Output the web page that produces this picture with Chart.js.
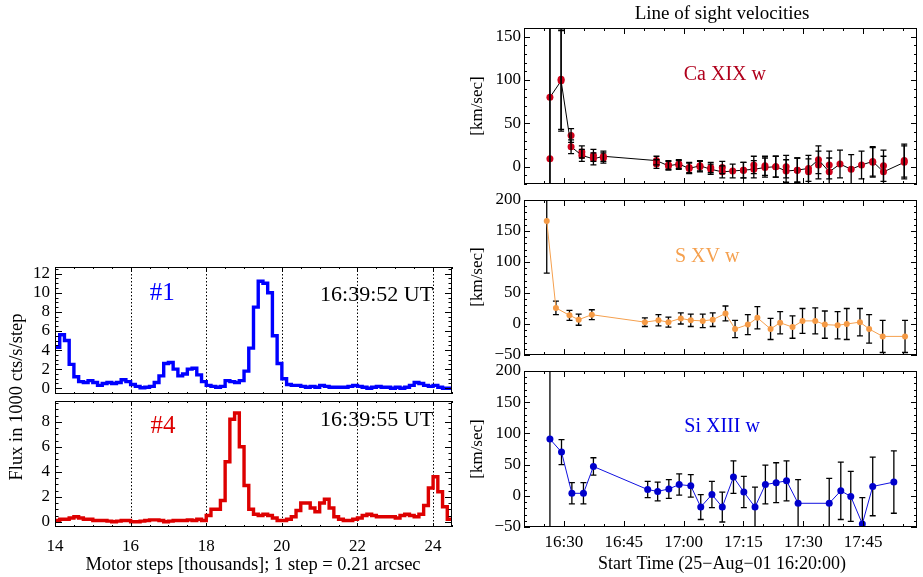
<!DOCTYPE html>
<html>
<head>
<meta charset="utf-8">
<title>Line of sight velocities</title>
<script src="https://cdn.jsdelivr.net/npm/chart.js@4.4.0/dist/chart.umd.min.js"></script>
<style>
  html, body { margin: 0; padding: 0; background: #fff; }
  #wrap { position: relative; width: 923px; height: 577px; overflow: hidden; }
  #wrap canvas { position: absolute; left: 0; top: 0; }
</style>
</head>
<body>
<div id="wrap">
  <canvas id="flux1" width="923" height="577"></canvas>
  <canvas id="flux4" width="923" height="577"></canvas>
  <canvas id="velCa" width="923" height="577"></canvas>
  <canvas id="velS" width="923" height="577"></canvas>
  <canvas id="velSi" width="923" height="577"></canvas>
</div>
<script>
// ---- data ----
// flux histograms, bins of 0.125 thousand motor steps starting at 14.0
var stepStart = 14.0;
var stepWidth = 0.125;
var flux1 = [4.3, 5.6, 5.0, 2.5, 1.2, 0.7, 0.6, 0.8, 0.6, 0.3,
             0.5, 0.6, 0.5, 0.6, 0.9, 0.7, 0.4, 0.2, 0.05, 0.1,
             0.2, 0.6, 1.3, 2.6, 2.7, 2.0, 1.3, 1.5, 2.0, 2.1,
             1.4, 0.7, 0.3, 0.2, 0.1, 0.2, 0.8, 0.7, 0.6, 0.8,
             1.8, 4.2, 8.5, 11.2, 11.0, 10.0, 5.5, 2.6, 1.0, 0.4,
             0.3, 0.3, 0.2, 0.1, 0.2, 0.1, 0.3, 0.2, 0.1, 0.1,
             0.1, 0.1, 0.2, 0.3, 0.2, 0.1, 0.0, 0.1, 0.2, 0.1,
             0.1, 0.0, 0.1, 0.0, 0.1, 0.3, 0.6, 0.5, 0.3, 0.2,
             0.3, 0.1, 0.0, 0.0];
var flux4 = [0.1, 0.2, 0.2, 0.3, 0.4, 0.3, 0.2, 0.2, 0.1, 0.1,
             0.1, 0.05, 0.0, 0.05, 0.1, 0.1, 0.0, 0.0, 0.05, 0.1,
             0.15, 0.15, 0.1, 0.0, 0.05, 0.1, 0.1, 0.1, 0.15, 0.1,
             0.2, 0.1, 0.5, 1.0, 1.0, 1.7, 4.8, 8.2, 8.7, 6.0,
             2.9, 1.0, 0.6, 0.5, 0.6, 0.5, 0.3, 0.1, 0.1, 0.2,
             0.4, 0.9, 1.5, 1.5, 1.1, 0.8, 1.5, 1.8, 1.1, 0.4,
             0.2, 0.1, 0.1, 0.2, 0.3, 0.5, 0.6, 0.5, 0.4, 0.4,
             0.4, 0.4, 0.3, 0.5, 0.6, 0.5, 0.4, 0.6, 1.3, 2.7,
             3.6, 2.4, 1.2, 0.2];

// velocities, time in minutes after 16:20:00
var caTime = [6.5, 9.3, 11.8, 14.5, 17.4, 19.9, 33.2, 36.2, 38.8, 41.4,
              44.1, 46.8, 49.7, 52.3, 55.0, 57.6, 60.4, 63.1, 65.7, 68.5,
              71.3, 73.8, 76.5, 79.2, 82.0, 84.6, 87.4, 90.1, 95.3];
var caVel = [80, 99, 23, 13, 9, 12, 7, 1, 3, -2,
             1, -3, -6, -5, -4, -3, -1, 0, -5, -4,
             -2, 8, -6, 3, -3, 2, 6, -6, 5];
var caVel2 = [9, 101, 36, 17, 13, 10, 3, 2, 2, -1,
              0, -1, -1, null, -4, 2, 1, 0, 0, -4,
              -6, 2, 2, null, null, null, 5, 1, 7];
var caErr = [200, 58, 8, 7, 7, 6, 5, 5, 5, 6,
             6, 6, 7, 8, 9, 10, 11, 12, 13, 14,
             15, 16, 16, 16, 17, 16, 17, 18, 19];

var sTime = [5.7, 8.0, 11.4, 13.7, 17.0, 30.3, 33.7, 36.2, 39.3, 41.8,
             44.8, 47.3, 50.5, 52.9, 56.1, 58.5, 61.8, 64.2, 67.3, 69.8,
             73.0, 75.4, 78.6, 80.9, 84.2, 86.5, 89.9, 95.5];
var sVel = [166, 26, 14, 7, 15, 3, 6, 3, 9, 6,
            5, 7, 17, -8, -1, 10, -8, 2, -5, 5,
            5, -1, -2, 0, 3, -8, -20, -20];
var sErr = [84, 11, 8, 9, 8, 7, 9, 8, 9, 10,
            11, 11, 12, 14, 16, 18, 17, 18, 18, 20,
            21, 22, 22, 25, 22, 23, 26, 26];

var siTime = [6.5, 9.4, 12.0, 14.9, 17.4, 31.0, 33.5, 36.3, 38.9, 41.8,
              44.3, 47.1, 49.7, 52.5, 55.1, 57.9, 60.5, 63.2, 65.8, 68.7,
              76.5, 79.4, 81.9, 84.8, 87.4, 92.7];
var siVel = [91, 70, 4, 4, 47, 10, 7, 11, 18, 16,
             -18, 2, -18, 30, 6, -18, 18, 21, 24, -12,
             -12, 8, -1, -45, 15, 22];
var siErr = [300, 20, 17, 17, 14, 13, 15, 15, 17, 18,
             20, 21, 24, 26, 25, 32, 31, 32, 32, 38,
             40, 46, 40, 42, 47, 50];

// ticks
var motorTicks = [14, 16, 18, 20, 22, 24];
var fluxTicks1 = [0, 2, 4, 6, 8, 10, 12];
var fluxTicks4 = [0, 2, 4, 6, 8];
var timeTicks = [10, 25, 40, 55, 70, 85];
var timeLabels = ['16:30', '16:45', '17:00', '17:15', '17:30', '17:45'];
var caTicks = [0, 50, 100, 150];
var velTicks = [-50, 0, 50, 100, 150, 200];

var FONT = '"Liberation Serif", "DejaVu Serif", serif';
var PAGE_W = 923, PAGE_H = 577;

// ---- plugins ----
// IDL style box with inward ticks on all four sides, plus optional dotted lines
var framePlugin = {
    id: 'frame',
    beforeDatasetsDraw: function(chart, args, o) {
        if (!o.dotted) return;
        var a = chart.chartArea, xs = chart.scales.x, ctx = chart.ctx;
        ctx.save();
        ctx.strokeStyle = '#000';
        ctx.lineWidth = 1;
        ctx.setLineDash([1.5, 2]);
        o.dotted.forEach(function(v) {
            var px = Math.round(xs.getPixelForValue(v)) + 0.5;
            ctx.beginPath();
            ctx.moveTo(px, a.top);
            ctx.lineTo(px, a.bottom);
            ctx.stroke();
        });
        ctx.restore();
    },
    afterDraw: function(chart, args, o) {
        var a = chart.chartArea, xs = chart.scales.x, ys = chart.scales.y, ctx = chart.ctx;
        ctx.save();
        ctx.strokeStyle = '#000';
        ctx.lineWidth = 1;
        ctx.strokeRect(a.left + 0.5, a.top + 0.5, a.width - 1, a.height - 1);

        function seg(x1, y1, x2, y2) {
            ctx.beginPath();
            ctx.moveTo(x1, y1);
            ctx.lineTo(x2, y2);
            ctx.stroke();
        }
        function xTick(v, len) {
            var p = Math.round(xs.getPixelForValue(v)) + 0.5;
            seg(p, a.bottom, p, a.bottom - len);
            seg(p, a.top, p, a.top + len);
        }
        function yTick(v, len) {
            var p = Math.round(ys.getPixelForValue(v)) + 0.5;
            seg(a.left, p, a.left + len, p);
            seg(a.right, p, a.right - len, p);
        }
        var v;
        for (v = Math.ceil(xs.min / o.xMinor) * o.xMinor; v <= xs.max + 1e-9; v += o.xMinor) xTick(v, o.xLen / 2);
        for (v = Math.ceil(ys.min / o.yMinor) * o.yMinor; v <= ys.max + 1e-9; v += o.yMinor) yTick(v, o.yLen / 2);
        o.xMajor.forEach(function(t) { xTick(t, o.xLen); });
        o.yMajor.forEach(function(t) { yTick(t, o.yLen); });
        ctx.restore();
    }
};

// vertical error bars read from dataset.errors
function drawErrors(chart) {
    var ctx = chart.ctx, a = chart.chartArea, xs = chart.scales.x, ys = chart.scales.y;
    ctx.save();
    ctx.beginPath();
    ctx.rect(a.left, a.top, a.width, a.height);
    ctx.clip();
    ctx.strokeStyle = '#000';
    ctx.lineWidth = 1.3;
    chart.data.datasets.forEach(function(ds) {
        if (!ds.errors) return;
        ds.data.forEach(function(p, i) {
            if (p.y === null) return;
            var e = ds.errors[i];
            var px = xs.getPixelForValue(p.x);
            var y1 = ys.getPixelForValue(p.y + e);
            var y2 = ys.getPixelForValue(p.y - e);
            ctx.beginPath();
            ctx.moveTo(px, y1); ctx.lineTo(px, y2);
            ctx.moveTo(px - 3, y1); ctx.lineTo(px + 3, y1);
            ctx.moveTo(px - 3, y2); ctx.lineTo(px + 3, y2);
            ctx.stroke();
        });
    });
    ctx.restore();
}
var errorBarPlugin = {
    id: 'errorBars',
    beforeDatasetsDraw: function(chart, args, o) { if (o.under) drawErrors(chart); },
    afterDatasetsDraw: function(chart, args, o) { if (!o.under) drawErrors(chart); }
};

// free text: fx/fy relative to chart area, or px/py on the page
var notesPlugin = {
    id: 'notes',
    afterDraw: function(chart, args, o) {
        var a = chart.chartArea, ctx = chart.ctx;
        (o.items || []).forEach(function(n) {
            var x = n.px !== undefined ? n.px : a.left + n.fx * a.width;
            var y = n.py !== undefined ? n.py : a.top + n.fy * a.height;
            ctx.save();
            ctx.translate(x, y);
            if (n.rot) ctx.rotate(n.rot);
            ctx.font = n.size + 'px ' + FONT;
            ctx.fillStyle = n.color || '#000';
            ctx.textAlign = 'center';
            ctx.textBaseline = 'middle';
            ctx.fillText(n.text, 0, 0);
            ctx.restore();
        });
    }
};

function minusSign(v) {
    return String(v).replace('-', '\u2212');
}

function histPoints(values) {
    var pts = values.map(function(v, i) { return { x: stepStart + i * stepWidth, y: v }; });
    pts.push({ x: stepStart + values.length * stepWidth, y: values[values.length - 1] });
    return pts;
}

function seriesPoints(times, vals) {
    return times.map(function(t, i) { return { x: t, y: vals[i] }; });
}

// one panel = one chart on a full page canvas, plot area placed by padding
function makePanel(id, box, xs, ys, datasets, extra) {
    var yW = 60;
    var xH = box.xH || 0;
    return new Chart(document.getElementById(id), {
        type: 'line',
        data: { datasets: datasets },
        options: {
            responsive: false,
            animation: false,
            devicePixelRatio: 1,
            events: [],
            layout: {
                padding: {
                    left: box.left - yW,
                    top: box.top,
                    right: PAGE_W - box.right,
                    bottom: PAGE_H - box.bottom - xH
                }
            },
            scales: {
                x: {
                    type: 'linear',
                    min: xs.min,
                    max: xs.max,
                    afterFit: function(s) { s.height = xH; },
                    afterBuildTicks: function(s) { s.ticks = xs.ticks.map(function(v) { return { value: v }; }); },
                    grid: { display: false, drawTicks: false },
                    border: { display: false },
                    ticks: {
                        display: xH > 0,
                        autoSkip: false,
                        maxRotation: 0,
                        padding: xs.pad || 5,
                        color: '#000',
                        font: { family: FONT, size: 17 },
                        callback: xs.labels ? function(v, i) { return xs.labels[i]; } : function(v) { return minusSign(v); }
                    }
                },
                y: {
                    type: 'linear',
                    min: ys.min,
                    max: ys.max,
                    afterFit: function(s) { s.width = yW; },
                    afterBuildTicks: function(s) { s.ticks = ys.ticks.map(function(v) { return { value: v }; }); },
                    grid: { display: false, drawTicks: false },
                    border: { display: false },
                    ticks: {
                        autoSkip: false,
                        padding: ys.pad || 5,
                        color: '#000',
                        font: { family: FONT, size: 17 },
                        callback: function(v) { return minusSign(v); }
                    }
                }
            },
            plugins: {
                legend: { display: false },
                tooltip: { enabled: false },
                frame: extra.frame,
                errorBars: { under: !!extra.errorsUnder },
                notes: { items: extra.notes }
            }
        },
        plugins: [framePlugin, errorBarPlugin, notesPlugin]
    });
}

// ---- left: flux scans ----
makePanel('flux1', { left: 55, top: 267, right: 452, bottom: 394 },
    { min: 14, max: 24.5, ticks: motorTicks },
    { min: -0.6, max: 12.7, ticks: fluxTicks1 },
    [{
        data: histPoints(flux1),
        stepped: true,
        borderColor: '#0000ff',
        borderWidth: 3.4,
        borderJoinStyle: 'miter',
        pointRadius: 0
    }],
    {
        frame: { xMajor: motorTicks, xMinor: 0.5, yMajor: fluxTicks1, yMinor: 0.5, xLen: 4, yLen: 7, dotted: [16, 18, 20, 22, 24] },
        notes: [
            { text: '#1', fx: 0.27, fy: 0.205, size: 25, color: '#0000ff' },
            { text: '16:39:52 UT', fx: 0.81, fy: 0.22, size: 22 },
            { text: 'Flux in 1000 cts/s/step', px: 17, py: 397, size: 18.5, rot: -Math.PI / 2 }
        ]
    });

makePanel('flux4', { left: 55, top: 401, right: 452, bottom: 527, xH: 40 },
    { min: 14, max: 24.5, ticks: motorTicks, pad: 9 },
    { min: -0.42, max: 9.66, ticks: fluxTicks4 },
    [{
        data: histPoints(flux4),
        stepped: true,
        borderColor: '#dd0000',
        borderWidth: 3.4,
        borderJoinStyle: 'miter',
        pointRadius: 0
    }],
    {
        frame: { xMajor: motorTicks, xMinor: 0.5, yMajor: fluxTicks4, yMinor: 0.5, xLen: 4, yLen: 7, dotted: [16, 18, 20, 22, 24] },
        notes: [
            { text: '#4', fx: 0.272, fy: 0.198, size: 25, color: '#dd0000' },
            { text: '16:39:55 UT', fx: 0.81, fy: 0.15, size: 22 },
            { text: 'Motor steps [thousands]; 1 step = 0.21 arcsec', px: 253, py: 565, size: 18.5 }
        ]
    });

// ---- right: line of sight velocities ----
var timeAxis = { min: 0, max: 98.5, ticks: timeTicks, labels: timeLabels };

makePanel('velCa', { left: 524, top: 28, right: 917, bottom: 184 },
    timeAxis,
    { min: -20, max: 160, ticks: caTicks, pad: 3 },
    [{
        data: seriesPoints(caTime, caVel),
        errors: caErr,
        borderColor: '#000',
        borderWidth: 1,
        pointRadius: 3.5,
        pointBorderWidth: 0,
        pointBackgroundColor: '#d0001a'
    }, {
        data: seriesPoints(caTime, caVel2),
        errors: caErr,
        showLine: false,
        pointRadius: 3.5,
        pointBorderWidth: 0,
        pointBackgroundColor: '#d0001a'
    }],
    {
        frame: { xMajor: timeTicks, xMinor: 5, yMajor: caTicks, yMinor: 10, xLen: 6, yLen: 6 },
        notes: [
            { text: 'Line of sight velocities', px: 722, py: 14, size: 19 },
            { text: 'Ca XIX w', fx: 0.511, fy: 0.30, size: 20, color: '#b0001c' },
            { text: '[km/sec]', px: 478, py: 106, size: 17, rot: -Math.PI / 2 }
        ]
    });

makePanel('velS', { left: 524, top: 200, right: 917, bottom: 355 },
    timeAxis,
    { min: -50, max: 200, ticks: velTicks, pad: 3 },
    [{
        data: seriesPoints(sTime, sVel),
        errors: sErr,
        borderColor: '#f5a04e',
        borderWidth: 1,
        pointRadius: 3,
        pointBorderWidth: 0,
        pointBackgroundColor: '#f59a45'
    }],
    {
        errorsUnder: true,
        frame: { xMajor: timeTicks, xMinor: 5, yMajor: velTicks, yMinor: 10, xLen: 6, yLen: 6 },
        notes: [
            { text: 'S XV w', fx: 0.466, fy: 0.368, size: 20, color: '#f5a04e' },
            { text: '[km/sec]', px: 478, py: 277, size: 17, rot: -Math.PI / 2 }
        ]
    });

makePanel('velSi', { left: 524, top: 371, right: 917, bottom: 527, xH: 40 },
    { min: 0, max: 98.5, ticks: timeTicks, labels: timeLabels, pad: 5 },
    { min: -50, max: 200, ticks: velTicks, pad: 3 },
    [{
        data: seriesPoints(siTime, siVel),
        errors: siErr,
        borderColor: '#1010e0',
        borderWidth: 1,
        pointRadius: 3.5,
        pointBorderWidth: 0,
        pointBackgroundColor: '#0000cc'
    }],
    {
        errorsUnder: true,
        frame: { xMajor: timeTicks, xMinor: 5, yMajor: velTicks, yMinor: 10, xLen: 6, yLen: 6 },
        notes: [
            { text: 'Si XIII w', fx: 0.504, fy: 0.359, size: 20, color: '#0000e6' },
            { text: '[km/sec]', px: 478, py: 449, size: 17, rot: -Math.PI / 2 },
            { text: 'Start Time (25\u2212Aug\u221201 16:20:00)', px: 722, py: 564, size: 18 }
        ]
    });
</script>
</body>
</html>
